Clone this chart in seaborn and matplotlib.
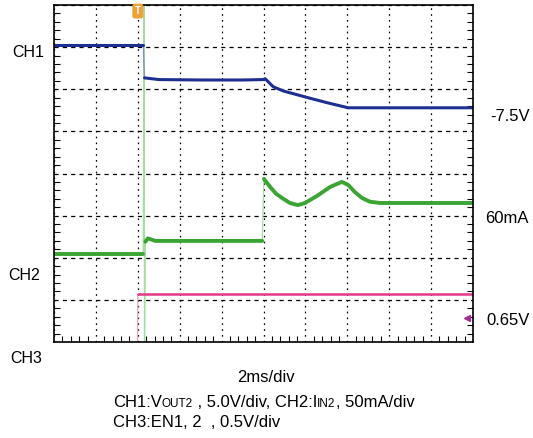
import matplotlib
matplotlib.use('Agg')
import matplotlib.pyplot as plt
import matplotlib.transforms as mtransforms
from matplotlib.ticker import MultipleLocator
import pandas as pd
import seaborn as sns

sns.set_style('white')
plt.rcParams['font.family'] = ['Liberation Sans', 'DejaVu Sans']
plt.rcParams['text.color'] = 'black'
plt.rcParams['lines.scale_dashes'] = False
plt.rcParams['lines.solid_joinstyle'] = 'round'

# scope screen: 10 x 8 divisions, 2 ms/div
n_xdiv, n_ydiv = 10, 8

# traces in divisions; seg = settled pieces drawn thick, -1 = fast transient only
ch1_t = [0.0, 2.13, 2.16, 2.5, 3.5, 4.5, 5.0, 5.04, 5.23, 5.47, 6.06, 6.52, 7.02, 8.5, 10.0]
ch1_v = [7.05, 7.05, 6.27, 6.23, 6.22, 6.22, 6.23, 6.25, 6.06, 5.96, 5.80, 5.68, 5.56, 5.56, 5.56]
ch1_seg = [0, 0, 1, 1, 1, 1, 1, 1, 1, 1, 1, 1, 1, 1, 1]

ch2_t = [0.0, 2.13, 2.15, 2.16, 2.18, 2.24, 2.42, 3.5, 4.97, 5.01, 5.16, 5.30, 5.47, 5.63,
         5.82, 5.99, 6.28, 6.59, 6.75, 6.87, 7.02, 7.18, 7.35, 7.54, 7.78, 10.0]
ch2_v = [2.09, 2.09, 8.5, -0.5, 2.38, 2.46, 2.40, 2.40, 2.40, 3.87, 3.68, 3.52, 3.40, 3.30,
         3.25, 3.30, 3.47, 3.68, 3.75, 3.80, 3.73, 3.56, 3.42, 3.33, 3.30, 3.30]
ch2_seg = [0, 0, -1, -1, 1, 1, 1, 1, 1, 2, 2, 2, 2, 2, 2, 2, 2, 2, 2, 2, 2, 2, 2, 2, 2, 2]

ch3_t = [0.0, 1.99, 2.0, 10.0]
ch3_v = [-0.3, -0.3, 1.13, 1.13]
ch3_seg = [0, 0, 1, 1]

trigger_t = 2.0
ch3_ref_v = 0.57

channels = [
    ('CH3', ch3_t, ch3_v, ch3_seg, '#e33a8a', '#f2a0c4', 1.8),
    ('CH2', ch2_t, ch2_v, ch2_seg, '#3aa532', '#a5dca0', 2.8),
    ('CH1', ch1_t, ch1_v, ch1_seg, '#1e2f92', '#8090d0', 2.2),
]

fig = plt.figure(figsize=(5.33, 4.38), dpi=100)
ax = fig.add_axes([54 / 533, 96 / 438, 419 / 533, 337 / 438])

for name, t, v, seg, color, edge_color, lw in channels:
    df = pd.DataFrame({'t': t, 'v': v, 'seg': seg})
    sns.lineplot(data=df, x='t', y='v', estimator=None, sort=False,
                 color=edge_color, linewidth=0.9, ax=ax)
for name, t, v, seg, color, edge_color, lw in channels:
    df = pd.DataFrame({'t': t, 'v': v, 'seg': seg})
    sns.lineplot(data=df[df.seg >= 0], x='t', y='v', units='seg', estimator=None,
                 sort=False, color=color, linewidth=lw, ax=ax)

ax.set_xlim(0, n_xdiv)
ax.set_ylim(0, n_ydiv)
ax.set_xlabel('')
ax.set_ylabel('')

# graticule
ax.xaxis.set_major_locator(MultipleLocator(1))
ax.yaxis.set_major_locator(MultipleLocator(1))
ax.xaxis.set_minor_locator(MultipleLocator(0.2))
ax.yaxis.set_minor_locator(MultipleLocator(0.2))
ax.tick_params(which='major', length=0, labelbottom=False, labelleft=False)
ax.tick_params(which='minor', direction='in', length=4, width=0.8, color='black',
               bottom=True, left=True, right=True, top=False)
ax.grid(which='major', axis='y', color='black', linestyle=(0, (3, 3)), linewidth=0.9)
ax.grid(which='major', axis='x', color='black', linestyle=(0, (1.2, 3)), linewidth=0.9)
ax.set_axisbelow(True)
for sp in ax.spines.values():
    sp.set_color('black')
    sp.set_linewidth(1.2)

# trigger position and CH3 reference markers
bt = mtransforms.blended_transform_factory(ax.transData, ax.transAxes)
ax.text(trigger_t, 0.982, 'T', transform=bt, ha='center', va='center', color='white',
        fontsize=7, fontweight='bold',
        bbox=dict(boxstyle='round,pad=0.25', fc='#f0a035', ec='none'))
bt2 = mtransforms.blended_transform_factory(ax.transAxes, ax.transData)
ax.plot([0.986], [ch3_ref_v], marker='<', markersize=5, color='#a0308f',
        transform=bt2, clip_on=False)


def fx(px):
    return px / 533


def fy(py):
    return (438 - py) / 438


fig.text(fx(12), fy(57), 'CH1', fontsize=11.5, va='baseline')
fig.text(fx(8), fy(280), 'CH2', fontsize=11.5, va='baseline')
fig.text(fx(10), fy(363), 'CH3', fontsize=11.5, va='baseline')
fig.text(fx(490), fy(121), '-7.5V', fontsize=12, va='baseline')
fig.text(fx(485), fy(223), '60mA', fontsize=12, va='baseline')
fig.text(fx(486), fy(325), '0.65V', fontsize=12, va='baseline')
fig.text(fx(266), fy(382), '2ms/div', fontsize=12, va='baseline', ha='center')


def chain(parts, x, y):
    prev = fig.text(x, y, parts[0][0], fontsize=parts[0][1], va='baseline')
    for txt, size in parts[1:]:
        prev = ax.annotate(txt, xy=(1, 0), xycoords=prev, va='bottom', ha='left',
                           fontsize=size, color='black')


chain([('CH1:V', 12), ('OUT2', 8.5), (' , 5.0V/div, CH2:I', 12), ('IN2', 8.5),
       (', 50mA/div', 12)], fx(113), fy(407))
fig.text(fx(113), fy(427), 'CH3:EN1, 2  , 0.5V/div', fontsize=12, va='baseline')

fig.savefig('out.png', dpi=100)
